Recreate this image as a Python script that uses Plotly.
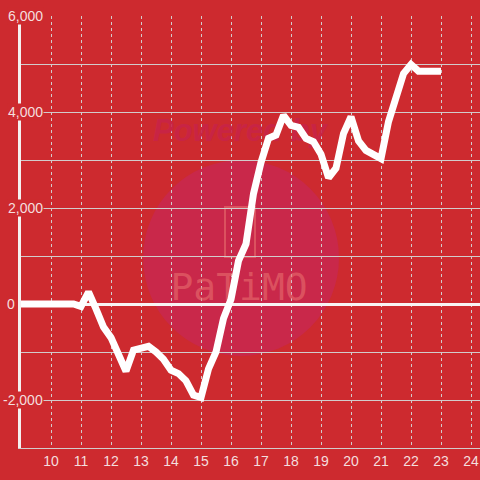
import plotly.graph_objects as go

# chart values
hours = [9, 9.25, 9.5, 9.75, 10, 10.25, 10.5, 10.75, 11, 11.25, 11.5, 11.75,
         12, 12.25, 12.5, 12.75, 13, 13.25, 13.5, 13.75, 14, 14.25, 14.5, 14.75,
         15, 15.25, 15.5, 15.75, 16, 16.25, 16.5, 16.75, 17, 17.25, 17.5, 17.75,
         18, 18.25, 18.5, 18.75, 19, 19.25, 19.5, 19.75, 20, 20.25, 20.5, 20.75,
         21, 21.25, 21.5, 21.75, 22, 22.25, 22.5, 22.75, 23]
profit = [0, 0, 0, 0, 0, 0, 0, 0, -50, 250, -100, -480,
          -700, -1100, -1400, -960, -920, -880, -1000, -1150, -1380, -1450, -1600, -1900,
          -1950, -1350, -1000, -300, 100, 900, 1250, 2300, 2950, 3450, 3520, 3930,
          3720, 3680, 3450, 3380, 3120, 2630, 2830, 3550, 3900, 3400, 3200, 3100,
          3030, 3800, 4250, 4800, 4990, 4850, 4850, 4850, 4850]
x_ticks = list(range(10, 25))
y_labels = [6000, 4000, 2000, 0, -2000]

BG = "#cd2a2f"
GRID = "#d2cccc"
LABEL = "#f4dede"
MARK = "rgba(232,110,110,0.6)"

fig = go.Figure()

# faint watermark, drawn under the line
fig.add_trace(go.Scatter(
    x=[16.3], y=[3560], mode="text", text=["<b><i>Powered by</i></b>"],
    textfont=dict(size=31, color="rgba(200,36,72,0.9)", family="Liberation Sans"),
    hoverinfo="skip", showlegend=False, cliponaxis=False,
))
fig.add_trace(go.Scatter(
    x=[16.27], y=[290], mode="text", text=["PaTiMO"],
    textfont=dict(size=38, color=MARK, family="DejaVu Sans Mono"),
    hoverinfo="skip", showlegend=False, cliponaxis=False,
))

fig.add_trace(go.Scatter(
    x=hours, y=profit, mode="lines",
    line=dict(color="white", width=7),
    hoverinfo="skip", showlegend=False,
))

fig.add_shape(type="circle", xref="x", yref="y", layer="below",
              x0=13.07, x1=19.6, y0=-1083, y1=3000,
              fillcolor="#c9284a", line=dict(width=0))
fig.add_shape(type="rect", xref="x", yref="y", layer="below",
              x0=15.8, x1=16.8, y0=980, y1=2020,
              line=dict(color=MARK, width=2))

for v in y_labels:
    fig.add_annotation(
        x=0, xref="paper", y=v, yref="y", xanchor="right",
        xshift=-5 if v == 0 else 23,
        text=f"{v:,}", showarrow=False,
        font=dict(size=14, color=LABEL, family="Liberation Sans"),
        bgcolor=BG, borderpad=0,
    )

fig.update_layout(
    width=480, height=480,
    margin=dict(l=21, r=0, t=16, b=32, autoexpand=False),
    paper_bgcolor=BG, plot_bgcolor=BG,
    xaxis=dict(
        range=[9, 24.3], tickvals=x_ticks, showgrid=True, automargin=False,
        gridcolor=GRID, gridwidth=1, griddash="dot",
        showline=True, linecolor=GRID, linewidth=1,
        ticks="", zeroline=False,
        tickfont=dict(size=14, color=LABEL, family="Liberation Sans"),
    ),
    yaxis=dict(
        range=[-3000, 6000], dtick=1000, showgrid=True, automargin=False,
        gridcolor=GRID, gridwidth=1,
        showline=True, linecolor="#f5f0f0", linewidth=3,
        zeroline=True, zerolinecolor="#f8f4f4", zerolinewidth=3,
        showticklabels=False, ticks="",
    ),
)

# drop the page's default body margin so the chart sits at the window corner
fig.write_html("out.html", config={"displayModeBar": False},
               post_script="document.body.style.margin='0';")
